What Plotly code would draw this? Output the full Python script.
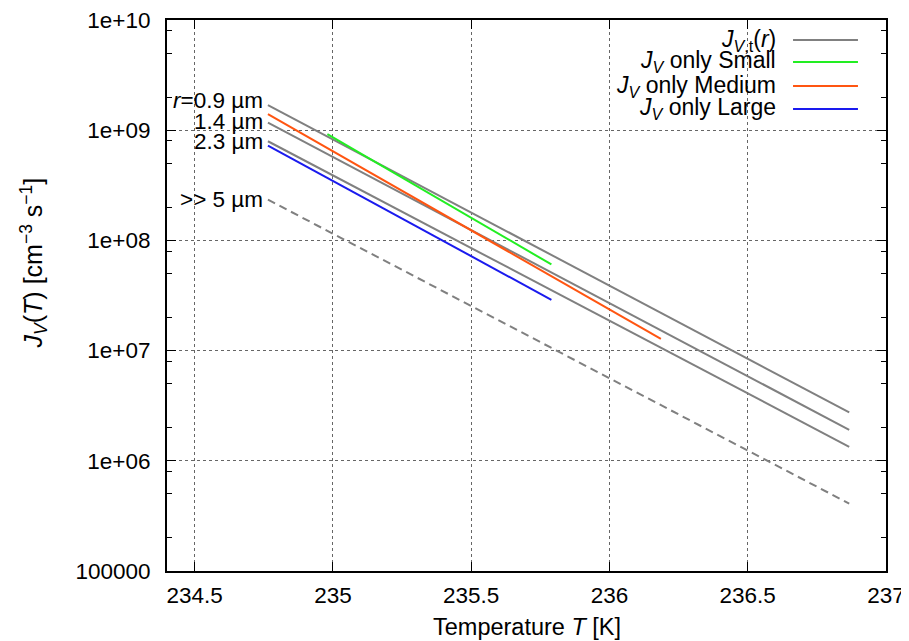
import math
import plotly.graph_objects as go

# ---- data ----
T_gray = [234.765, 236.867]
J_r09 = [1.69e9, 2.75e6]
J_r14 = [1.17e9, 1.91e6]
J_r23 = [7.94e8, 1.34e6]
J_r5 = [2.34e8, 4.09e5]

T_small = [234.98, 235.79]
J_small = [9.2e8, 6.05e7]
T_medium = [234.765, 236.186]
J_medium = [1.40e9, 1.28e7]
T_large = [234.765, 235.79]
J_large = [7.26e8, 2.89e7]

x_ticks = [234.5, 235, 235.5, 236, 236.5, 237]
x_ticktext = ["234.5", "235", "235.5", "236", "236.5", "237"]
y_ticks = [1e5, 1e6, 1e7, 1e8, 1e9, 1e10]
y_ticktext = ["100000", "1e+06", "1e+07", "1e+08", "1e+09", "1e+10"]
y_minor = [m * 10 ** d for d in range(5, 10) for m in (2, 5, 8)]

r_labels = ["<i>r</i>=0.9 µm", "1.4 µm", "2.3 µm", ">> 5 µm"]

legend_labels = [
    "<i>J</i><sub><i>V</i>,t</sub>(<i>r</i>)",
    "<i>J</i><sub><i>V</i></sub> only Small",
    "<i>J</i><sub><i>V</i></sub> only Medium",
    "<i>J</i><sub><i>V</i></sub> only Large",
]

GRAY = "#808080"
GREEN = "#22ee22"
ORANGE = "#ff5511"
BLUE = "#1a1aee"
FONT = "Liberation Sans, Arial, sans-serif"
FS = 22.5

fig = go.Figure()
for J in (J_r09, J_r14, J_r23):
    fig.add_trace(go.Scatter(x=T_gray, y=J, mode="lines",
                             line=dict(color=GRAY, width=2), showlegend=False))
fig.add_trace(go.Scatter(x=T_gray, y=J_r5, mode="lines",
                         line=dict(color=GRAY, width=2, dash="8px,5px"), showlegend=False))
fig.add_trace(go.Scatter(x=T_small, y=J_small, mode="lines",
                         line=dict(color=GREEN, width=2), showlegend=False))
fig.add_trace(go.Scatter(x=T_medium, y=J_medium, mode="lines",
                         line=dict(color=ORANGE, width=2), showlegend=False))
fig.add_trace(go.Scatter(x=T_large, y=J_large, mode="lines",
                         line=dict(color=BLUE, width=2), showlegend=False))

# labels at the start of the size lines (log axis -> annotation y in log10 units)
starts = [J_r09[0], J_r14[0], J_r23[0], J_r5[0]]
yshifts = [5, 1, 0, 0]
for lab, y0, ys in zip(r_labels, starts, yshifts):
    fig.add_annotation(x=T_gray[0], y=math.log10(y0), xref="x", yref="y", text=lab,
                       showarrow=False, xanchor="right", yanchor="middle",
                       xshift=-3, yshift=ys, font=dict(family=FONT, size=FS, color="black"))

# custom legend (text right-aligned, sample line to the right of it)
leg_colors = [GRAY, GREEN, ORANGE, BLUE]
leg_y = [0.9637, 0.9238, 0.8802, 0.8385]
for lab, col, yy in zip(legend_labels, leg_colors, leg_y):
    fig.add_annotation(x=0.8498, y=yy, xref="paper", yref="paper", text=lab,
                       showarrow=False, xanchor="right", yanchor="middle",
                       font=dict(family=FONT, size=23, color="black"))
    fig.add_shape(type="line", xref="paper", yref="paper",
                  x0=0.8707, x1=0.961, y0=yy, y1=yy,
                  line=dict(color=col, width=2))

# axis titles
fig.add_annotation(x=-0.185, y=0.56, xref="paper", yref="paper",
                   text="<i>J</i><sub><i>V</i></sub>(<i>T</i>) [cm<sup>−3</sup> s<sup>−1</sup>]",
                   textangle=-90, showarrow=False, xanchor="center", yanchor="middle",
                   font=dict(family=FONT, size=25, color="black"))
fig.add_annotation(x=0.5, y=-0.1016, xref="paper", yref="paper",
                   text="Temperature <i>T</i> [K]",
                   showarrow=False, xanchor="center", yanchor="middle",
                   font=dict(family=FONT, size=23.5, color="black"))

axis_common = dict(showline=True, linecolor="black", linewidth=2, mirror="allticks",
                   ticks="inside", ticklen=9, tickwidth=1, tickcolor="black",
                   showgrid=True, gridcolor="#666666", griddash="dot", gridwidth=1,
                   zeroline=False, automargin=False, ticklabeloverflow="allow",
                   tickfont=dict(family=FONT, size=FS, color="black"))

fig.update_xaxes(range=[234.4, 237], tickmode="array", tickvals=x_ticks,
                 ticktext=x_ticktext, ticklabelstandoff=3, **axis_common)
fig.update_yaxes(type="log", range=[5, 10], tickmode="array", tickvals=y_ticks,
                 ticktext=y_ticktext, ticklabelstandoff=10,
                 minor=dict(tickmode="array", tickvals=y_minor, ticks="inside",
                            ticklen=5, tickcolor="black", showgrid=False),
                 **axis_common)

# the page body adds an 8 px offset, so the figure is sized/margined to compensate
fig.update_layout(width=901, height=633, plot_bgcolor="white", paper_bgcolor="white",
                  margin=dict(l=159, r=23, t=12, b=70), showlegend=False,
                  font=dict(family=FONT, size=FS, color="black"))

fig.write_html("out.html")
